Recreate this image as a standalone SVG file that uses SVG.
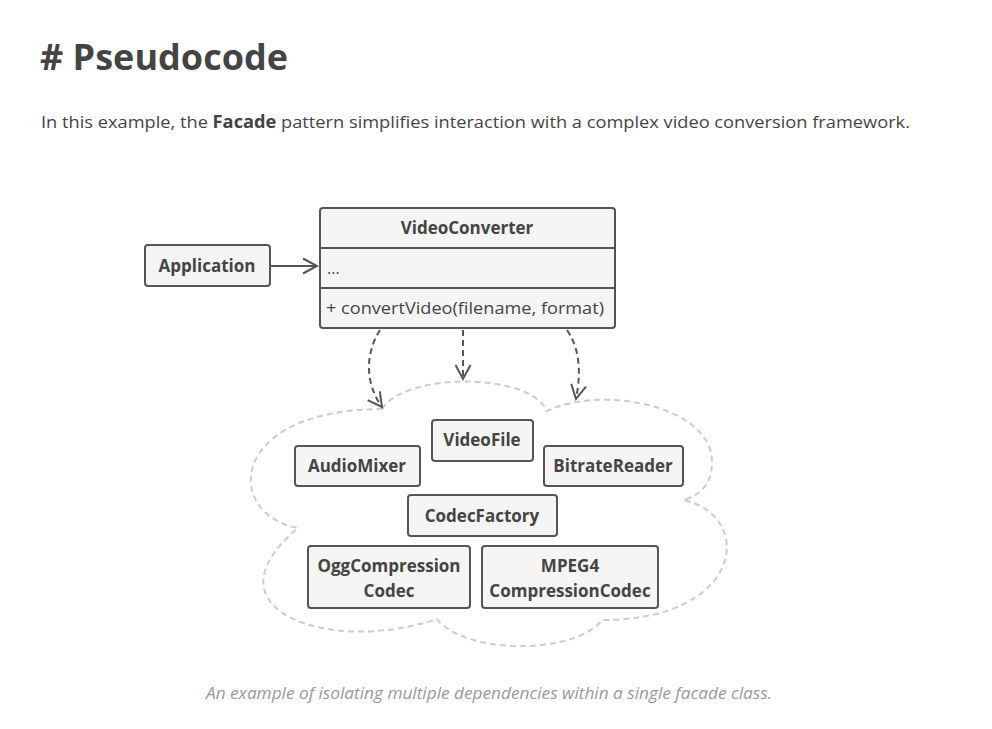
<svg xmlns="http://www.w3.org/2000/svg" width="992" height="729" viewBox="0 0 992 729">
<defs>
<style>
.box{fill:#f5f5f5;stroke:#555;stroke-width:2}
.t{font-family:"Open Sans","Noto Sans",sans-serif;font-weight:bold;font-size:17px;fill:#444;text-anchor:middle}
.r{font-family:"Open Sans","Noto Sans",sans-serif;font-size:16px;fill:#444}
.con{fill:none;stroke:#555;stroke-width:2}
.dash{stroke-dasharray:6 4}
</style>
<marker id="open" viewBox="0 0 18 18" refX="15" refY="9" markerWidth="18" markerHeight="18" markerUnits="userSpaceOnUse" orient="auto">
<path d="M1,1.5 L15,9 L1,16.5" fill="none" stroke="#555" stroke-width="2"/>
</marker>
</defs>
<rect width="992" height="729" fill="#fff"/>
<text x="40" y="70" font-family="Open Sans, Noto Sans, sans-serif" font-weight="bold" font-size="36" fill="#444" textLength="248" lengthAdjust="spacingAndGlyphs"># Pseudocode</text>
<text x="41" y="128" font-family="Open Sans, Noto Sans, sans-serif" font-size="17" fill="#444" textLength="869" lengthAdjust="spacingAndGlyphs">In this example, the <tspan font-weight="bold">Facade</tspan> pattern simplifies interaction with a complex video conversion framework.</text>

<path id="cloud" d="M382,409 C405,372 530,372 547,411 C600,385 712,405 712,462 C712,485 700,495 683,500 C755,515 745,620 602,620 C575,655 465,655 437,619 C330,655 200,610 298,528 C225,515 225,410 382,409 Z" fill="none" stroke="#ccc" stroke-width="2" stroke-dasharray="6 4"/>

<g id="connectors">
<line class="con" x1="271" y1="266" x2="317" y2="266" marker-end="url(#open)"/>
<path class="con dash" d="M380,330 C364,355 366,385 382,407" marker-end="url(#open)"/>
<path class="con dash" d="M463,330 L463,379" marker-end="url(#open)"/>
<path class="con dash" d="M567,330 C582,352 580,378 576,399" marker-end="url(#open)"/>
</g>

<g id="Application">
<rect class="box" x="145" y="245" width="125" height="41" rx="3"/>
<text class="t" x="207" y="272">Application</text>
</g>
<g id="VideoConverter">
<rect class="box" x="320" y="208" width="295" height="120" rx="3"/>
<line x1="320" y1="248" x2="615" y2="248" stroke="#555" stroke-width="2"/>
<line x1="320" y1="288" x2="615" y2="288" stroke="#555" stroke-width="2"/>
<text class="t" x="467" y="234">VideoConverter</text>
<text class="r" x="327" y="274">...</text>
<text class="r" x="326" y="314" textLength="278" lengthAdjust="spacingAndGlyphs">+ convertVideo(filename, format)</text>
</g>
<g id="VideoFile">
<rect class="box" x="432" y="420" width="101" height="41" rx="3"/>
<text class="t" x="482" y="446">VideoFile</text>
</g>
<g id="AudioMixer">
<rect class="box" x="295" y="446" width="125" height="40" rx="3"/>
<text class="t" x="357" y="472">AudioMixer</text>
</g>
<g id="BitrateReader">
<rect class="box" x="544" y="446" width="139" height="40" rx="3"/>
<text class="t" x="613" y="472">BitrateReader</text>
</g>
<g id="CodecFactory">
<rect class="box" x="408" y="495" width="149" height="41" rx="3"/>
<text class="t" x="482" y="522">CodecFactory</text>
</g>
<g id="OggCompressionCodec">
<rect class="box" x="308" y="546" width="162" height="62" rx="3"/>
<text class="t" x="389" y="572">OggCompression</text>
<text class="t" x="389" y="597">Codec</text>
</g>
<g id="MPEG4CompressionCodec">
<rect class="box" x="482" y="546" width="176" height="62" rx="3"/>
<text class="t" x="570" y="572">MPEG4</text>
<text class="t" x="570" y="597">CompressionCodec</text>
</g>
<text x="489" y="699" font-family="Open Sans, Noto Sans, sans-serif" font-style="italic" font-size="16" fill="#999" text-anchor="middle" textLength="566" lengthAdjust="spacingAndGlyphs">An example of isolating multiple dependencies within a single facade class.</text>
</svg>
